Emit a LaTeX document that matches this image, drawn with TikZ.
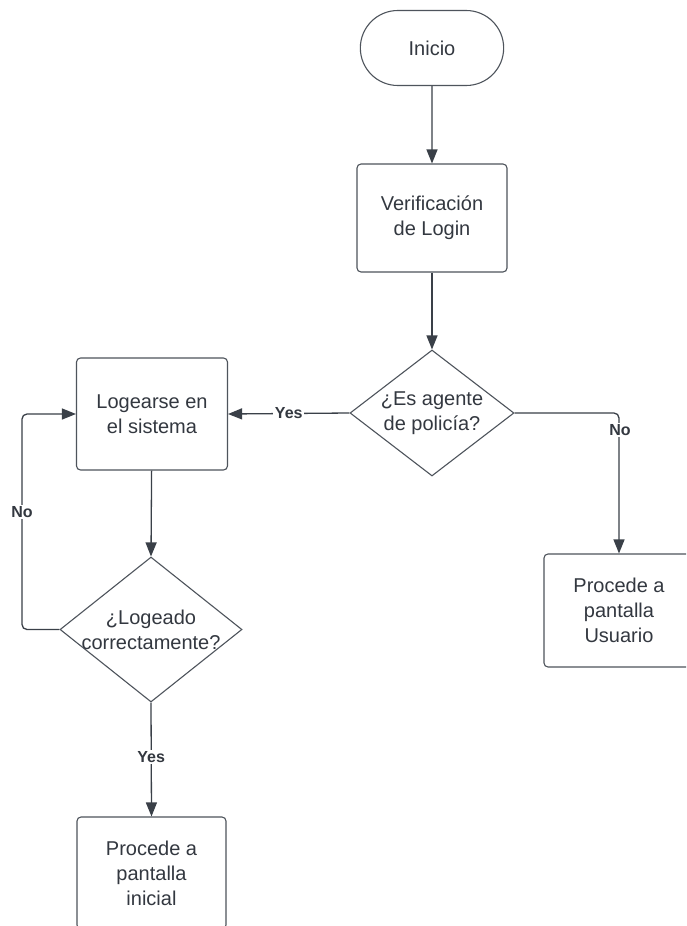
\documentclass[tikz,border=0pt]{standalone}
\usepackage{fontspec}
\setmainfont{Liberation Sans}
\usetikzlibrary{shapes.geometric,shapes.misc,arrows.meta}
\definecolor{linec}{RGB}{78,84,92}
\definecolor{arrc}{RGB}{58,64,72}
\definecolor{txtc}{RGB}{51,56,64}
\tikzset{
  box/.style={draw=linec, line width=1.1pt, rectangle, rounded corners=4pt, minimum width=150pt, text=txtc, align=center, font=\fontsize{20}{25}\selectfont},
  term/.style={draw=linec, line width=1.1pt, rounded rectangle, minimum width=150pt, minimum height=75pt, text=txtc, font=\fontsize{20}{25}\selectfont},
  dia/.style={draw=linec, line width=1.1pt, diamond, inner sep=0pt},
  dtxt/.style={text=txtc, align=center, font=\fontsize{20}{25}\selectfont},
  conn/.style={draw=arrc, line width=1.3pt, -{Triangle[length=14pt,width=11pt]}},
  lbl/.style={fill=white, text=txtc, inner sep=1.5pt, font=\fontsize{16}{19}\selectfont\bfseries}
}
\begin{document}
\begin{tikzpicture}[x=1pt,y=-1pt]
\clip (0,0) rectangle (686,926);
\fill[white] (0,0) rectangle (686,926);
\node[term] (inicio) at (432,48) {Inicio};
\node[box, minimum height=108pt] (verif) at (432,218) {Verificación\\de Login};
\node[dia, minimum width=164pt, minimum height=126pt] (q1) at (432,413) {};
\node[dtxt] (q1t) at (q1) {¿Es agente\\de policía?};
\node[box, minimum width=151pt, minimum height=112pt] (log) at (152,414) {Logearse en\\el sistema};
\node[dia, minimum width=182pt, minimum height=145pt] (q2) at (151,629.5) {};
\node[dtxt] (q2t) at (q2) {¿Logeado\\correctamente?};
\node[box, minimum width=149pt, minimum height=112pt] (inic) at (151.5,873) {Procede a\\pantalla\\inicial};
\node[box, minimum width=150pt, minimum height=113pt] (usr) at (619,610.5) {Procede a\\pantalla\\Usuario};
\coordinate (lc) at (22,629.5);
\draw[conn] (inicio) -- (verif);
\draw[conn] (verif) -- (q1);
\draw[conn] (q1.west) -- (log.east) node[lbl, pos=0.5] (yes1) {Yes};
\draw[conn, rounded corners=5pt] (q1.east) -| (usr.north);
\node[lbl] (no1) at (620,430) {No};
\draw[conn] (log) -- (q2.north);
\draw[conn, rounded corners=5pt] (q2.west) -- (lc) |- (log.west);
\node[lbl] (no2) at (22,512) {No};
\draw[conn] (q2.south) -- (inic.north) node[lbl, pos=0.48] (yes2) {Yes};
\end{tikzpicture}
\end{document}
